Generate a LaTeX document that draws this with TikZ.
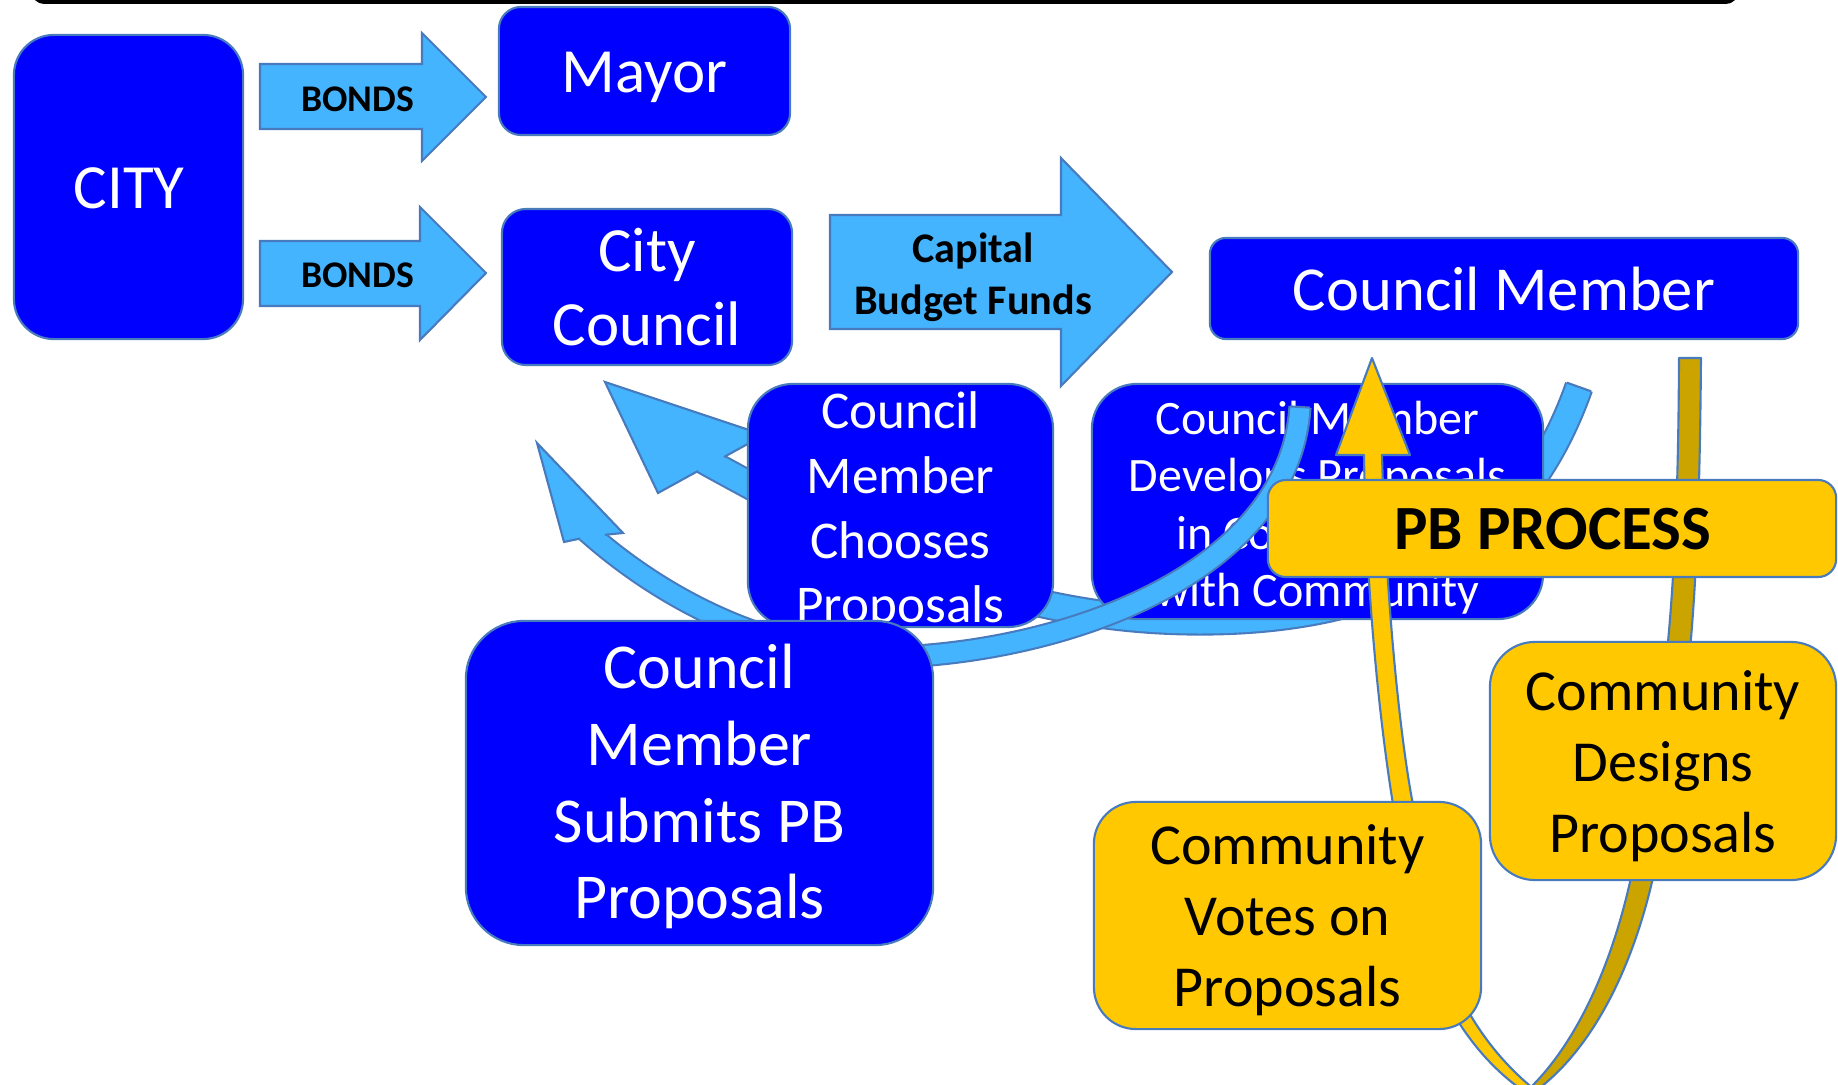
\documentclass[tikz,border=0pt]{standalone}
\usepackage{fontspec}
\setmainfont{Carlito}
\definecolor{boxblue}{RGB}{0,0,255}
\definecolor{edgeblue}{RGB}{72,122,190}
\definecolor{skyblue}{RGB}{68,180,255}
\definecolor{pbyellow}{RGB}{255,200,0}
\definecolor{pbgold}{RGB}{204,164,0}
\newcommand\lnstrut{\rule[-0.25em]{0pt}{1em}}
\begin{document}
\begin{tikzpicture}[x=0.01cm,y=-0.01cm,
  outline/.style={draw=edgeblue,line width=0.6pt},
  bluebox/.style={outline,fill=boxblue,inner sep=0pt,outer sep=0pt},
  yellowbox/.style={outline,fill=pbyellow,inner sep=0pt,outer sep=0pt},
  wtext/.style={text=white,align=center,inner sep=0pt},
  ktext/.style={text=black,align=center,inner sep=0pt},
  blockarrow/.style={outline,fill=skyblue,line join=miter},
  bandA/.style={draw=edgeblue,line width=0.6pt,double=skyblue,double distance=0.25cm},
  bandB/.style={draw=edgeblue,line width=0.6pt,double=skyblue,double distance=0.19cm},
  ribbon/.style={outline,line join=round}]
\useasboundingbox (0,0) rectangle (1838,1085);
\clip (0,0) rectangle (1838,1085);

% black bar along the top edge
\fill[black,rounded corners=0.12cm] (32,-40) rectangle (1738,4);

% block arrows
\draw[blockarrow] (260,64) -- (422,64) -- (422,33) -- (486,97) -- (422,161) -- (422,129) -- (260,129) -- cycle;
\node[ktext,font={\fontsize{10.7pt}{12.8pt}\selectfont\bfseries}] (bondsa) at (357.5,102) {\lnstrut BONDS};
\draw[blockarrow] (260,241) -- (420,241) -- (420,207) -- (486,273) -- (420,340) -- (420,306) -- (260,306) -- cycle;
\node[ktext,font={\fontsize{10.7pt}{12.8pt}\selectfont\bfseries}] (bondsb) at (357.5,277.6) {\lnstrut BONDS};
\draw[blockarrow] (830,215) -- (1061,215) -- (1061,158) -- (1172,272) -- (1061,386) -- (1061,329) -- (830,329) -- cycle;
\node[ktext,font={\fontsize{12pt}{14.65pt}\selectfont\bfseries}] (capital) at (973,277.8) {\lnstrut Capital\\\lnstrut Budget Funds};

% top row boxes
\node[bluebox,rounded corners=0.4cm,minimum width=2.29cm,minimum height=3.04cm] (city) at (128.5,187) {};
\node[wtext,font={\fontsize{17.9pt}{21.3pt}\selectfont}] (citytx) at (129,192.9) {\lnstrut CITY};
\node[bluebox,rounded corners=0.22cm,minimum width=2.91cm,minimum height=1.28cm] (mayor) at (644.5,71) {};
\node[wtext,font={\fontsize{17.9pt}{21.3pt}\selectfont}] (mayortx) at (644.5,77) {\lnstrut Mayor};
\node[bluebox,rounded corners=0.24cm,minimum width=2.90cm,minimum height=1.56cm] (council) at (647,287) {};
\node[wtext,font={\fontsize{17.9pt}{21.3pt}\selectfont}] (counciltx) at (647,292.8) {\lnstrut City\\\lnstrut Council};
\node[bluebox,rounded corners=0.16cm,minimum width=5.88cm,minimum height=1.01cm] (member) at (1504,288.5) {};
\node[wtext,font={\fontsize{17.8pt}{21pt}\selectfont}] (membertx) at (1504,295) {\lnstrut Council Member};

% back face of the PB ribbon
\draw[ribbon,fill=pbgold] (1679,358) -- (1701,358) .. controls (1699,600) and (1690,720) .. (1652,882)
  .. controls (1630,975) and (1590,1050) .. (1537,1090) -- (1528,1090)
  .. controls (1575,1045) and (1610,970) .. (1630,882)
  .. controls (1665,720) and (1678,600) .. (1679,358) -- cycle;

% long curved arrow towards the City Council
\draw[bandA] (1579,387) .. controls (1529,528) and (1420,621) .. (1200,621)
  .. controls (1000,621) and (850,540) .. (711,464) -- (702,459);
\draw[outline] (1566.9,382.7) -- (1591.1,391.3);
\fill[skyblue] (605,382) -- (658,493) -- (764,435) -- cycle;
\draw[outline,line join=miter] (698,471) -- (658,493) -- (605,382) -- (764,435) -- (724,457);

% middle boxes
\node[bluebox,rounded corners=0.45cm,minimum width=3.05cm,minimum height=2.43cm] (chooses) at (900.5,505.5) {};
\node[wtext,font={\fontsize{15.1pt}{18.35pt}\selectfont}] (choosestx) at (900.5,512.5)
  {\lnstrut Council\\\lnstrut Member\\\lnstrut Chooses\\\lnstrut Proposals};
\node[bluebox,rounded corners=0.45cm,minimum width=4.51cm,minimum height=2.35cm] (develops) at (1317.5,501.5) {};
\node[wtext,font={\fontsize{13.65pt}{16.36pt}\selectfont}] (developstx) at (1317.5,508.3)
  {\lnstrut Council Member\\\lnstrut Develops Proposals\\\lnstrut in Conjunction\\\lnstrut with Community};

% curved arrow from the proposals round to the City Council
\draw[bandB] (1300,407) .. controls (1290,560) and (1100,640) .. (930,655)
  .. controls (780,668) and (660,595) .. (593,537) -- (583.9,529.1);
\draw[outline] (1290.2,406.4) -- (1309.8,407.6);
\fill[skyblue] (537,443) -- (564,542) -- (623,533) -- cycle;
\draw[outline,line join=miter] (580.2,538.5) -- (564,542) -- (537,443) -- (623,533) -- (604.9,534.8);

% front face of the PB ribbon, ending in the arrow to the Council Member
\draw[ribbon,fill=pbyellow] (1372,358) -- (1410,455) -- (1382,455)
  .. controls (1386,600) and (1400,740) .. (1414,810)
  .. controls (1425,930) and (1455,1025) .. (1535,1090) -- (1522,1090)
  .. controls (1445,1035) and (1408,935) .. (1394,810)
  .. controls (1382,740) and (1366,600) .. (1364,455) -- (1336,455) -- cycle;

% submission box
\node[bluebox,rounded corners=0.58cm,minimum width=4.67cm,minimum height=3.24cm] (submits) at (699.5,783) {};
\node[wtext,font={\fontsize{18.2pt}{21.77pt}\selectfont}] (submitstx) at (699.5,787.8)
  {\lnstrut Council\\\lnstrut Member\\\lnstrut Submits PB\\\lnstrut Proposals};

% PB process boxes
\node[yellowbox,rounded corners=0.18cm,minimum width=5.68cm,minimum height=0.97cm] (pb) at (1552,528.5) {};
\node[ktext,font={\fontsize{17.9pt}{21.3pt}\selectfont\bfseries}] (pbtx) at (1552.5,534) {\lnstrut PB PROCESS};
\node[yellowbox,rounded corners=0.42cm,minimum width=3.87cm,minimum height=2.27cm] (votes) at (1287.5,915.5) {};
\node[ktext,font={\fontsize{16.5pt}{20.06pt}\selectfont}] (votestx) at (1287.5,921)
  {\lnstrut Community\\\lnstrut Votes on\\\lnstrut Proposals};
\node[yellowbox,rounded corners=0.45cm,minimum width=3.46cm,minimum height=2.38cm] (designs) at (1663,761) {};
\node[ktext,font={\fontsize{16.5pt}{20.06pt}\selectfont}] (designstx) at (1663,767)
  {\lnstrut Community\\\lnstrut Designs\\\lnstrut Proposals};
\end{tikzpicture}
\end{document}
